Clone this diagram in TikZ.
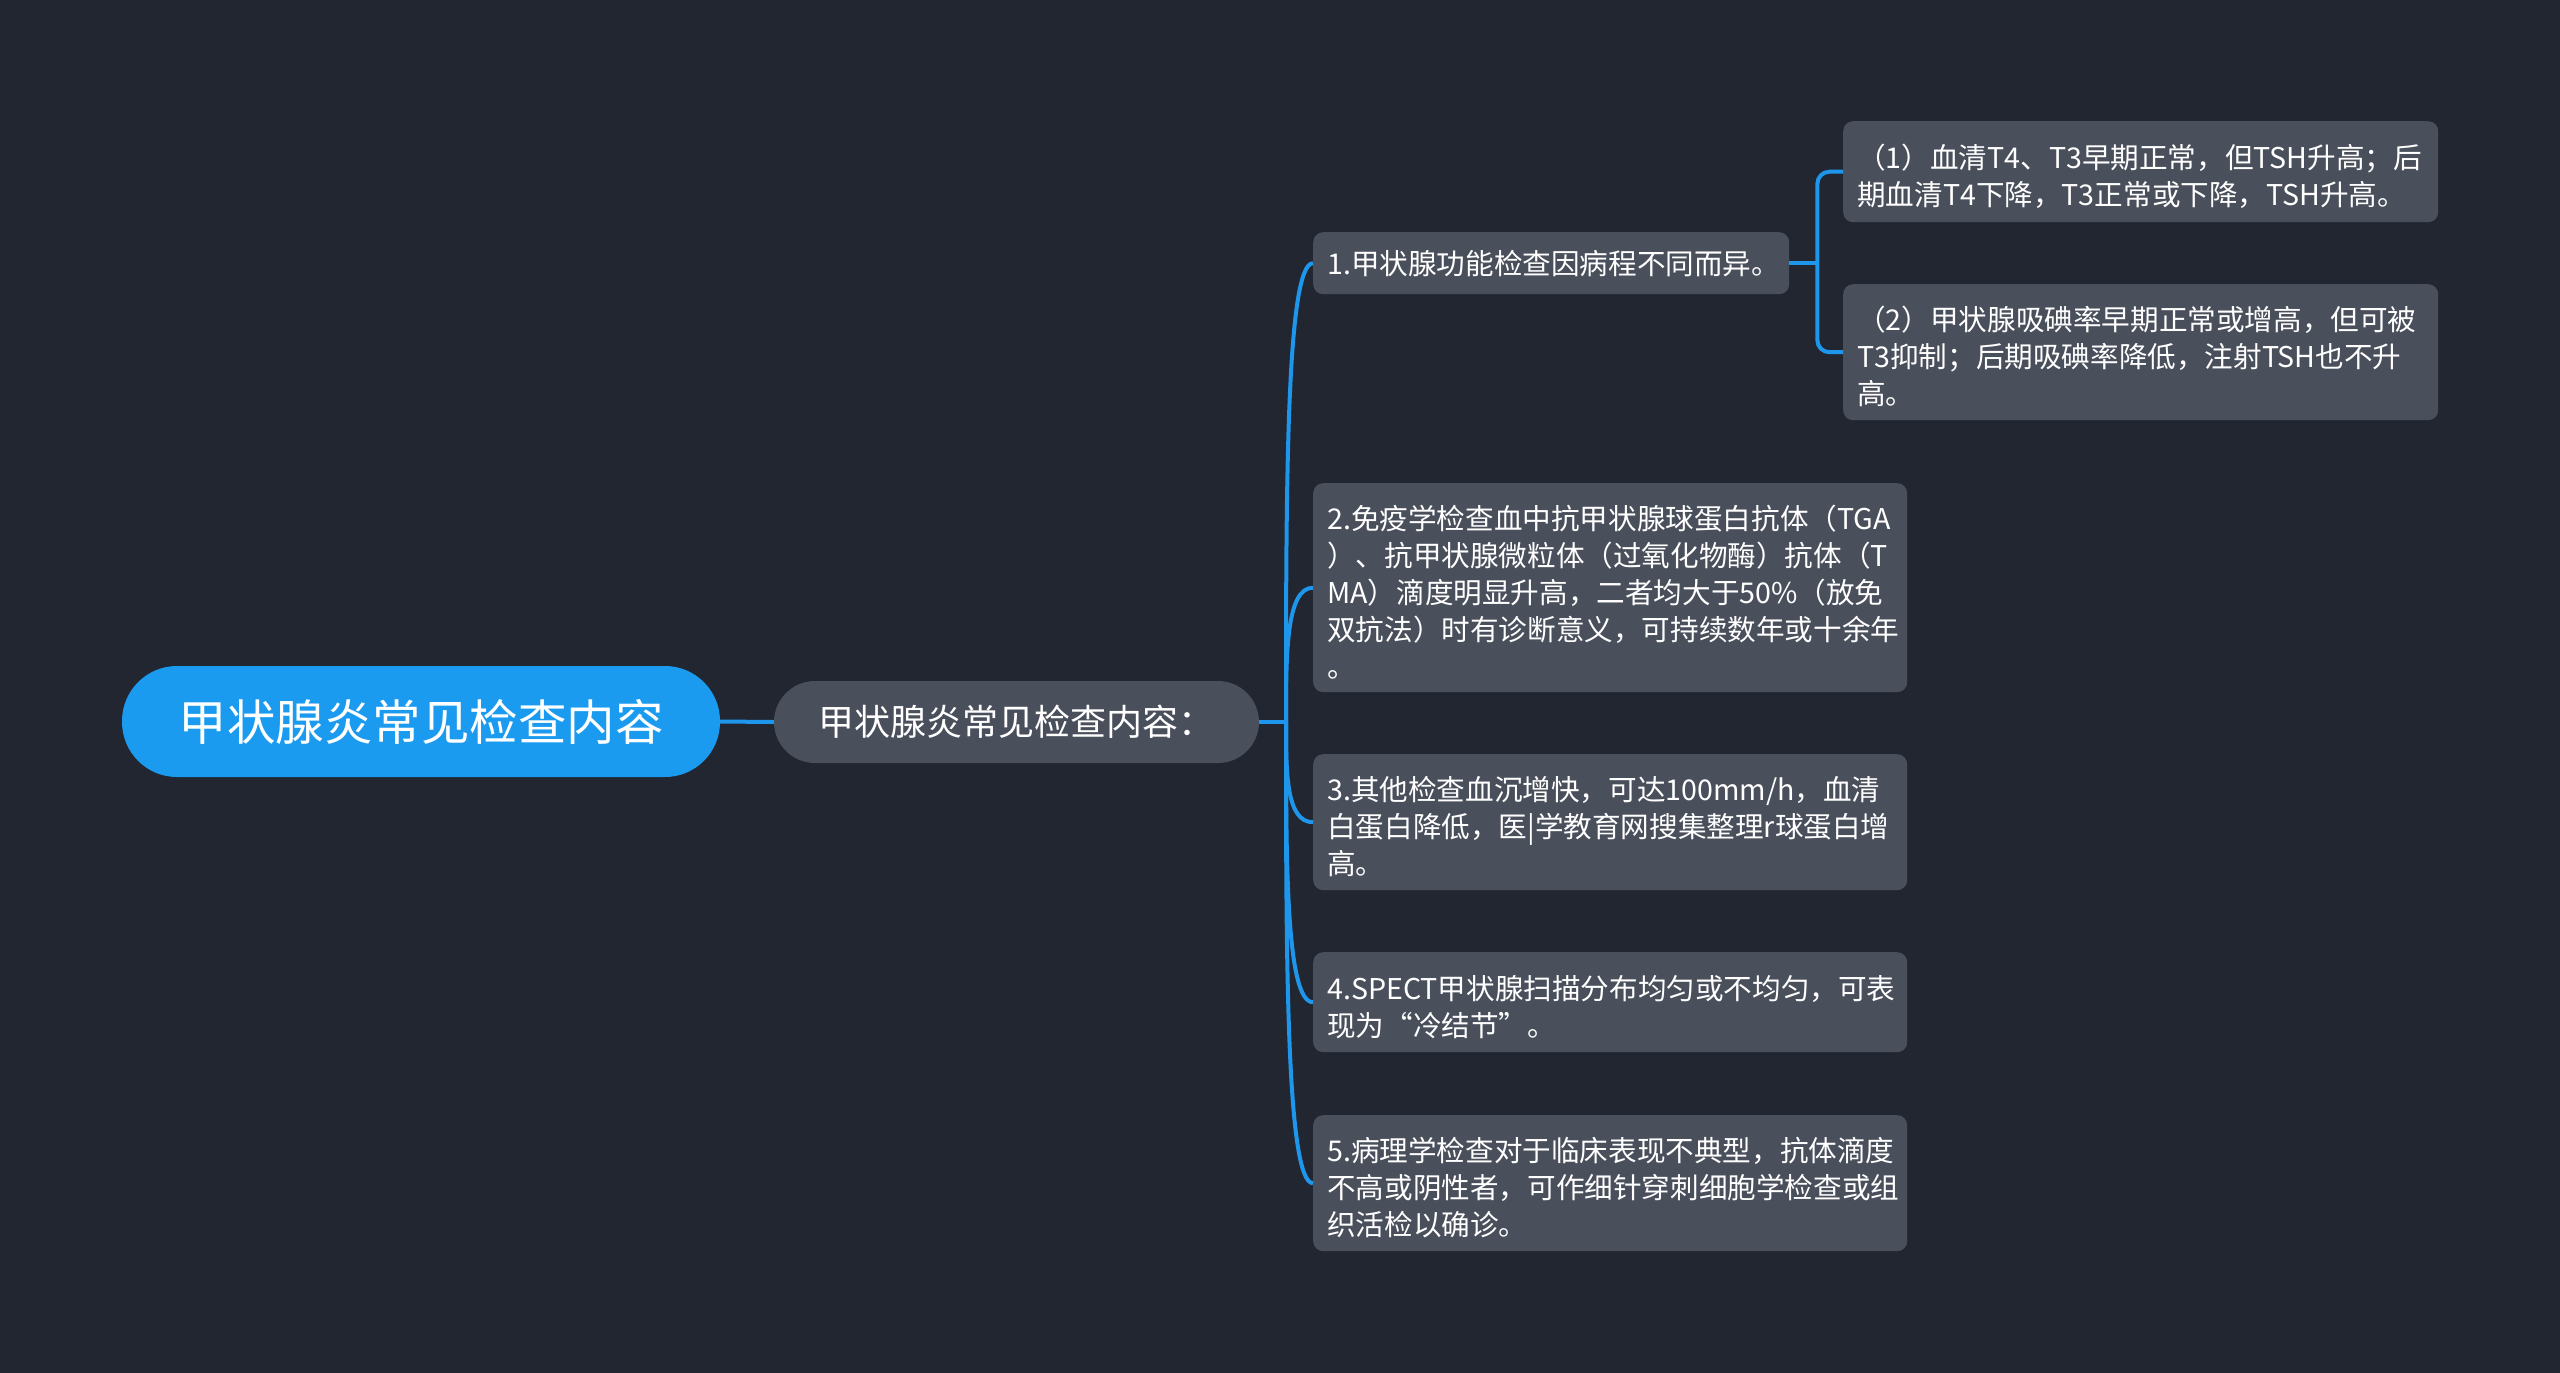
\documentclass[tikz,border=0pt]{standalone}
\usepackage{fontspec}
\newfontfamily\cjk{Noto Sans CJK SC}
\usetikzlibrary{calc}
\definecolor{bg}{HTML}{222631}
\definecolor{nodegrey}{HTML}{4A4F5C}
\definecolor{rootblue}{HTML}{1A9BF0}
\definecolor{linkblue}{HTML}{1E96EC}
\begin{document}
\begin{tikzpicture}[x=1pt,y=-1pt,
  rootbox/.style={fill=rootblue, text=white, rounded corners=55pt, minimum width=598pt, minimum height=111pt, inner sep=0pt, font=\cjk\fontsize{48.5}{58}\selectfont},
  lonebox/.style={fill=nodegrey, text=white, rounded corners=41pt, minimum width=485pt, minimum height=82pt, inner sep=0pt, font=\cjk\fontsize{36}{42}\selectfont},
  box/.style={fill=nodegrey, text=white, rounded corners=10pt, anchor=north west, align=left, inner xsep=14pt, inner ysep=0pt, font=\cjk\fontsize{28.6}{37}\selectfont},
  multibox/.style={box, execute at begin node={\rule{0pt}{33pt}}},
  conn/.style={draw=linkblue, line width=4pt}
]
\fill[bg] (0,0) rectangle (2560,1373);
\useasboundingbox (0,0) rectangle (2560,1373);

\node[rootbox] (root) at (421,721.5) {甲状腺炎常见检查内容};
\node[lonebox] (l1) at (1016.5,722) {甲状腺炎常见检查内容：};
\coordinate (tr) at (1286,722);

\node[box, text width=448pt, minimum height=62pt] (c1) at (1313,232) {1.甲状腺功能检查因病程不同而异。};
\node[multibox, text width=566pt, minimum height=209pt] (c2) at (1313,483) {2.免疫学检查血中抗甲状腺球蛋白抗体（TGA\\）、抗甲状腺微粒体（过氧化物酶）抗体（T\\MA）滴度明显升高，二者均大于50\%（放免\\双抗法）时有诊断意义，可持续数年或十余年\\。};
\node[multibox, text width=566pt, minimum height=136pt] (c3) at (1313,754) {3.其他检查血沉增快，可达100mm/h，血清\\白蛋白降低，医|学教育网搜集整理r球蛋白增\\高。};
\node[multibox, text width=566pt, minimum height=100pt] (c4) at (1313,952) {4.SPECT甲状腺扫描分布均匀或不均匀，可表\\现为“冷结节”。};
\node[multibox, text width=566pt, minimum height=136pt] (c5) at (1313,1115) {5.病理学检查对于临床表现不典型，抗体滴度\\不高或阴性者，可作细针穿刺细胞学检查或组\\织活检以确诊。};

\node[multibox, text width=567pt, minimum height=101pt] (g1) at (1843,121) {（1）血清T4、T3早期正常，但TSH升高；后\\期血清T4下降，T3正常或下降，TSH升高。};
\node[multibox, text width=567pt, minimum height=136pt] (g2) at (1843,284) {（2）甲状腺吸碘率早期正常或增高，但可被\\T3抑制；后期吸碘率降低，注射TSH也不升\\高。};

\draw[conn] (root.east) -- (l1.west);
\draw[conn] (l1.east) -- (tr);
\foreach \c in {c1,c2,c3,c4,c5}
  \draw[conn] (tr) .. controls ($(tr)!0.5!(tr |- \c.west)$) and (tr |- \c.west) .. (\c.west);

\coordinate (bk) at ($(c1.east)+(28,0)$);
\draw[conn] (c1.east) -- (bk);
\draw[conn, rounded corners=12pt] (g1.west) -| (bk) |- (g2.west);
\end{tikzpicture}
\end{document}
